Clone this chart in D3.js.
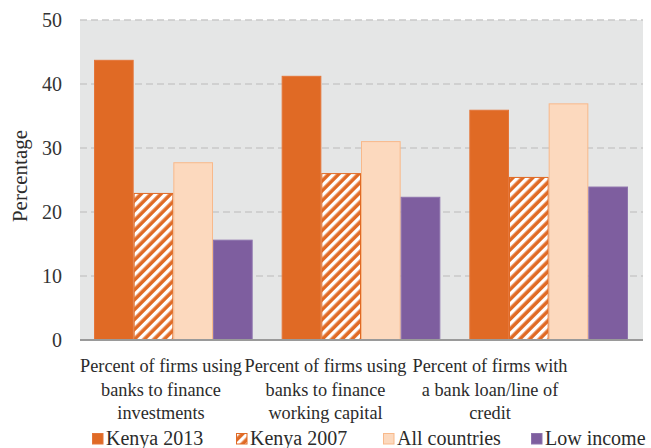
<!DOCTYPE html>
<html>
<head>
<meta charset="utf-8">
<script src="https://cdn.jsdelivr.net/npm/d3@7"></script>
<style>
  body { margin: 0; background: #fff; }
</style>
</head>
<body>
<div id="chart"></div>
<script>
// data
var categories = [
    ["Percent of firms using", "banks to finance", "investments"],
    ["Percent of firms using", "banks to finance", "working capital"],
    ["Percent of firms with", "a bank loan/line of", "credit"]
];
var seriesNames = ["Kenya 2013", "Kenya 2007", "All countries", "Low income"];
var kenya2013 = [43.7, 41.2, 35.9];
var kenya2007 = [22.9, 26.0, 25.4];
var allCountries = [27.7, 31.0, 36.9];
var lowIncome = [15.6, 22.3, 23.9];
var yTicks = [0, 10, 20, 30, 40, 50];

var seriesValues = [kenya2013, kenya2007, allCountries, lowIncome];

var FONT = "'Liberation Serif', 'Times New Roman', serif";
var TEXT_COLOR = "#2b2b2b";

var width = 651, height = 448;
var margin = { top: 20, right: 8, bottom: 108, left: 80 };
var innerW = width - margin.left - margin.right;
var innerH = height - margin.top - margin.bottom;

var svg = d3.select("#chart").append("svg")
    .attr("width", width)
    .attr("height", height)
    .attr("font-family", FONT);

// hatch pattern for Kenya 2007
var defs = svg.append("defs");
var pat = defs.append("pattern")
    .attr("id", "hatch")
    .attr("patternUnits", "userSpaceOnUse")
    .attr("width", 7)
    .attr("height", 7)
    .attr("patternTransform", "rotate(45)");
pat.append("rect").attr("width", 7).attr("height", 7).attr("fill", "#E06A25");
pat.append("rect").attr("width", 3.4).attr("height", 7).attr("fill", "#ffffff");

var styles = [
    { fill: "#E06A25", stroke: "#E4763A" },
    { fill: "url(#hatch)", stroke: "#E06A25" },
    { fill: "#FCD9BE", stroke: "#F8B98B" },
    { fill: "#7E5E9F", stroke: "#8E74AD" }
];

var g = svg.append("g")
    .attr("transform", "translate(" + margin.left + "," + margin.top + ")");

g.append("rect")
    .attr("width", innerW)
    .attr("height", innerH)
    .attr("fill", "#E5E6E6");

var x0 = d3.scaleBand()
    .domain(d3.range(categories.length))
    .range([0, innerW])
    .paddingInner(0)
    .paddingOuter(0);

var x1 = d3.scaleBand()
    .domain(d3.range(seriesNames.length))
    .range([14, x0.bandwidth() - 15])
    .padding(0);

// the category labels sit a bit to the left of the bands in the original
var xLabel = d3.scalePoint()
    .domain(d3.range(categories.length))
    .range([81, 410]);

var y = d3.scaleLinear()
    .domain([0, 50])
    .range([innerH, 0]);

// gridlines
g.selectAll(".grid")
    .data(yTicks.filter(function(d) { return d > 0; }))
    .enter().append("line")
    .attr("class", "grid")
    .attr("x1", 0)
    .attr("x2", innerW)
    .attr("y1", function(d) { return y(d); })
    .attr("y2", function(d) { return y(d); })
    .attr("stroke", "#C9C9C9")
    .attr("stroke-width", 1.5)
    .attr("stroke-dasharray", "7,4");

// bars
var groups = g.selectAll(".group")
    .data(categories)
    .enter().append("g")
    .attr("class", "group")
    .attr("transform", function(d, i) { return "translate(" + x0(i) + ",0)"; });

groups.selectAll("rect")
    .data(function(d, i) {
        return seriesValues.map(function(vals, s) { return { s: s, v: vals[i] }; });
    })
    .enter().append("rect")
    .attr("x", function(d) { return x1(d.s) + 0.5; })
    .attr("width", x1.bandwidth() - 1)
    .attr("y", function(d) { return y(d.v); })
    .attr("height", function(d) { return innerH - y(d.v); })
    .attr("fill", function(d) { return styles[d.s].fill; })
    .attr("stroke", function(d) { return styles[d.s].stroke; })
    .attr("stroke-width", 1);

// baseline
g.append("line")
    .attr("x1", 0)
    .attr("x2", innerW)
    .attr("y1", innerH)
    .attr("y2", innerH)
    .attr("stroke", "#9A9A9A")
    .attr("stroke-width", 2);

// y axis labels
var yAxis = d3.axisLeft(y).tickValues(yTicks).tickSize(0).tickPadding(18);
var yG = g.append("g")
    .attr("class", "y-axis")
    .call(yAxis)
    .attr("font-family", FONT)
    .attr("font-size", 20);
yG.select(".domain").remove();
yG.selectAll("text")
    .attr("font-family", FONT)
    .attr("fill", "#333");

svg.append("text")
    .attr("transform", "translate(27," + (margin.top + 156) + ") rotate(-90)")
    .attr("text-anchor", "middle")
    .attr("font-family", FONT)
    .attr("font-size", 21)
    .attr("fill", TEXT_COLOR)
    .text("Percentage");

// category labels
var catLabels = g.selectAll(".cat")
    .data(categories)
    .enter().append("text")
    .attr("class", "cat")
    .attr("text-anchor", "middle")
    .attr("font-family", FONT)
    .attr("font-size", 18.3)
    .attr("fill", TEXT_COLOR)
    .attr("transform", function(d, i) {
        return "translate(" + xLabel(i) + "," + (innerH + 32) + ")";
    });

catLabels.selectAll("tspan")
    .data(function(d) { return d; })
    .enter().append("tspan")
    .attr("x", 0)
    .attr("y", function(d, i) { return i * 23.7; })
    .text(function(d) { return d; });

// legend
var legendX = [92, 236, 383, 531];
var legend = svg.selectAll(".legend")
    .data(seriesNames)
    .enter().append("g")
    .attr("class", "legend")
    .attr("transform", function(d, i) { return "translate(" + legendX[i] + ",433)"; });

legend.append("rect")
    .attr("x", 0.5)
    .attr("y", 0.5)
    .attr("width", 10.5)
    .attr("height", 10.5)
    .attr("fill", function(d, i) { return styles[i].fill; })
    .attr("stroke", function(d, i) { return styles[i].stroke; });

legend.append("text")
    .attr("x", 14)
    .attr("y", 12)
    .attr("font-family", FONT)
    .attr("font-size", 20)
    .attr("fill", TEXT_COLOR)
    .text(function(d) { return d; });
</script>
</body>
</html>
